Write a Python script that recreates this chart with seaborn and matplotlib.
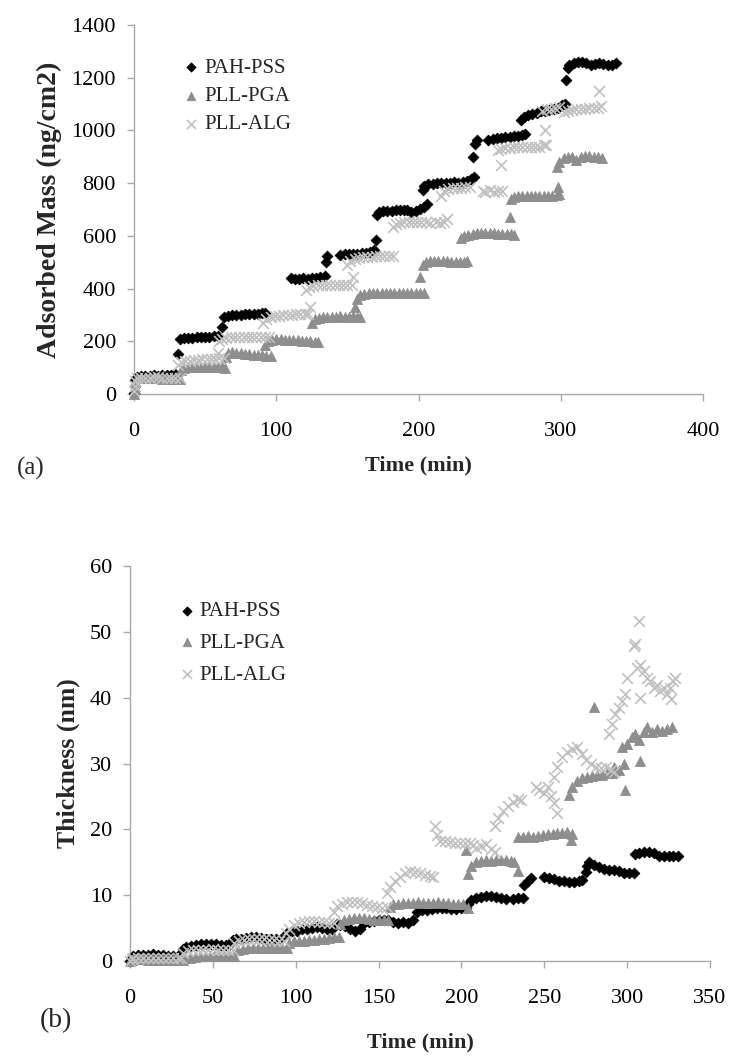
import matplotlib
matplotlib.use("Agg")
import matplotlib.pyplot as plt
import seaborn as sns
import pandas as pd

sns.set_theme(style="white")
plt.rcParams["font.family"] = ["Liberation Serif", "DejaVu Serif"]

SERIES = ["PAH-PSS", "PLL-PGA", "PLL-ALG"]

# ---------------- (a) Adsorbed mass (ng/cm2) vs time (min) ----------------
MASS_T_PAH = [0, 0.5, 1, 2, 5, 8, 11, 14, 17, 20, 23, 26, 29,
              31, 32, 35, 38, 41, 44, 47, 50, 53, 56, 59,
              62, 63, 66, 69, 72, 75, 78, 81, 84, 87, 90, 92,
              110, 113, 116, 119, 122, 125, 128, 131, 134, 135, 136,
              145, 148, 151, 154, 157, 160, 163, 166, 169, 170,
              171, 172, 175, 178, 181, 184, 187, 190, 192, 195, 198, 201, 204, 206,
              203, 204, 207, 210, 213, 216, 219, 222, 225, 228, 231, 234, 237, 239,
              238, 239.5, 241, 249, 252, 255, 258, 261, 264, 267, 270, 273, 275,
              272, 274, 277, 280, 283, 286, 289, 292, 295, 298, 301, 303,
              304, 305, 306, 309, 312, 315, 318, 321, 324, 327, 330, 333, 336, 339]
MASS_PAH = [5, 30, 55, 66, 68, 70, 69, 71, 70, 72, 71, 73, 74,
            150, 208, 212, 213, 214, 215, 216, 217, 218, 219, 221,
            255, 293, 296, 298, 300, 301, 302, 303, 304, 305, 307, 308,
            440, 438, 437, 441, 437, 440, 442, 443, 446, 500, 525,
            528, 530, 532, 533, 531, 534, 536, 538, 545, 584,
            680, 690, 693, 695, 696, 697, 698, 700, 697, 690, 695, 702, 710, 720,
            775, 790, 795, 797, 799, 800, 801, 800, 803, 802, 806, 810, 815, 822,
            900, 950, 965, 962, 968, 970, 972, 974, 976, 978, 980, 982, 985,
            1040, 1050, 1058, 1062, 1068, 1072, 1075, 1078, 1080, 1085, 1095, 1100,
            1190, 1235, 1248, 1255, 1258, 1260, 1255, 1250, 1252, 1255, 1252, 1250, 1248, 1255]

MASS_T_PGA = [0, 0.5, 1, 2, 5, 8, 11, 14, 17, 20, 23, 26, 29, 32,
              33, 35, 38, 41, 44, 47, 50, 53, 56, 59, 62, 64,
              65, 66, 69, 72, 75, 78, 81, 84, 87, 90, 93, 96,
              92, 94, 97, 100, 103, 106, 109, 112, 115, 118, 121, 124, 127, 129,
              125, 127, 130, 133, 136, 139, 142, 145, 148, 151, 154, 157, 159,
              155, 157, 159, 162, 165, 168, 171, 174, 177, 180, 183, 186, 189, 192, 195, 198, 201, 204,
              201, 203, 205, 208, 211, 214, 217, 220, 223, 226, 229, 232, 234,
              230, 232, 235, 238, 241, 244, 247, 250, 253, 256, 259, 262, 265, 267,
              264, 265, 267, 270, 273, 276, 279, 282, 285, 288, 291, 294, 297, 299,
              298, 297, 299, 302, 305, 308, 311, 314, 317, 320, 323, 326, 329]
MASS_PGA = [0, 20, 45, 60, 62, 61, 60, 60, 59, 58, 58, 57, 57, 56,
            90, 98, 101, 103, 104, 104, 103, 103, 102, 102, 101, 100,
            140, 155, 158, 156, 154, 152, 150, 149, 148, 147, 146, 145,
            185, 200, 206, 208, 207, 206, 205, 204, 203, 202, 201, 200, 199, 198,
            270, 285, 290, 292, 293, 294, 294, 295, 294, 294, 295, 293, 292,
            330, 360, 375, 380, 382, 383, 383, 384, 383, 383, 382, 383, 384, 383, 382, 383, 384, 383,
            445, 490, 500, 503, 504, 505, 504, 503, 502, 502, 501, 502, 505,
            590, 600, 605, 608, 610, 611, 610, 610, 609, 608, 608, 607, 607, 605,
            670, 740, 748, 750, 752, 752, 753, 752, 752, 751, 750, 752, 755, 760,
            786, 860, 880, 895, 900, 898, 888, 900, 902, 902, 900, 898, 895]

MASS_T_ALG = [0, 0.5, 1, 2, 5, 8, 11, 14, 17, 20, 23, 26, 29, 32,
              31, 33, 36, 39, 42, 45, 48, 51, 54, 57, 59, 60, 63,
              60, 62, 65, 68, 71, 74, 77, 80, 83, 86, 89, 92, 95,
              91, 93, 96, 99, 102, 105, 108, 111, 114, 117, 120, 122, 124,
              121, 123, 126, 129, 132, 135, 138, 141, 144, 147, 150, 153, 154,
              150, 152, 155, 158, 161, 164, 167, 170, 173, 176, 179, 182,
              182, 184, 187, 190, 193, 196, 199, 202, 205, 208, 212, 215, 218, 220,
              216, 218, 221, 224, 227, 230, 233, 236,
              245, 247, 250, 253, 256, 258, 259,
              256, 258, 261, 264, 267, 270, 273, 276, 279, 282, 285, 288, 289, 289.5,
              287, 290, 293, 296, 299, 302, 305, 308, 311, 314, 317, 320, 323, 326, 327, 328]
MASS_ALG = [10, 30, 50, 60, 61, 62, 62, 63, 63, 62, 62, 61, 60, 60,
            110, 120, 124, 127, 129, 130, 131, 132, 133, 134, 155, 135, 136,
            200, 210, 214, 215, 216, 217, 217, 217, 217, 216, 216, 215, 215,
            270, 285, 292, 295, 297, 299, 300, 301, 302, 302, 302, 303, 330,
            395, 405, 410, 412, 413, 413, 414, 413, 413, 412, 412, 415, 443,
            490, 505, 512, 516, 518, 520, 521, 522, 522, 522, 523, 523,
            635, 645, 650, 652, 653, 654, 653, 652, 652, 650, 652, 650, 652, 665,
            750, 770, 778, 780, 782, 783, 784, 785,
            770, 765, 775, 768, 772, 869, 770,
            925, 930, 933, 935, 936, 937, 937, 938, 938, 938, 937, 945, 1003, 945,
            1075, 1080, 1082, 1085, 1088, 1070, 1075, 1078, 1080, 1082, 1083, 1084, 1085, 1086, 1150, 1093]

# ---------------- (b) Thickness (nm) vs time (min) ----------------
THK_T_PAH = [0, 1, 2, 5, 8, 11, 14, 17, 20, 23, 26, 29,
             32, 34, 37, 40, 43, 46, 49, 52, 55, 58, 60,
             62, 64, 67, 70, 73, 76, 79, 82, 85, 88, 91,
             95, 98, 101, 104, 107, 110, 113, 116, 119, 122,
             125, 127, 130, 133, 136, 139,
             141, 144, 147, 150, 153, 156,
             159, 162, 165, 168, 171,
             173, 176, 179, 182, 185, 188, 191, 194, 197, 200, 203,
             204, 206, 209, 212, 215, 218, 221, 224, 227,
             231, 234, 237, 238, 240, 242,
             250, 253, 256, 259, 262, 265, 268, 271, 273,
             275, 276, 277,
             280, 283, 286, 289, 292, 295, 298, 301, 304,
             305, 307, 310, 313, 316, 319, 322, 325, 328, 331]
THK_PAH = [0.0, 0.5, 0.8, 0.9, 0.9, 0.9, 1.0, 0.9, 0.9, 0.8, 0.8, 0.8,
           1.8, 2.1, 2.3, 2.5, 2.6, 2.6, 2.6, 2.6, 2.5, 2.5, 2.5,
           3.2, 3.3, 3.4, 3.5, 3.6, 3.6, 3.5, 3.4, 3.4, 3.4, 3.3,
           4.3, 4.5, 4.6, 4.8, 4.9, 5.0, 5.1, 5.0, 4.9, 4.8,
           5.6, 5.5, 5.3, 4.9, 4.6, 4.8,
           5.8, 6.0, 6.1, 6.2, 6.2, 6.2,
           6.0, 5.8, 5.9, 5.8, 6.2,
           7.5, 7.7, 7.8, 7.9, 8.0, 8.0, 8.0, 7.9, 7.9, 8.0, 8.0,
           8.6, 9.2, 9.5, 9.7, 9.8, 9.8, 9.7, 9.5, 9.4,
           9.4, 9.6, 9.5, 11.5, 12.2, 12.6,
           12.8, 12.6, 12.4, 12.2, 12.1, 12.0, 12.0, 12.1, 12.3,
           13.5, 14.5, 15.0,
           14.6, 14.3, 14.0, 13.8, 13.9, 13.6, 13.3, 13.3, 13.4,
           16.2, 16.4, 16.5, 16.6, 16.4, 16.0, 15.9, 15.9, 16.0, 15.9]

THK_T_PGA = [0, 1, 2, 5, 8, 11, 14, 17, 20, 23, 26, 29, 32,
             33, 36, 39, 42, 45, 48, 51, 54, 57, 60, 63,
             65, 68, 71, 74, 77, 80, 83, 86, 89, 92, 95,
             96, 99, 102, 105, 108, 111, 114, 117, 120, 123, 126,
             127, 129, 132, 135, 138, 141, 144, 147, 150, 153, 156,
             157, 159, 162, 165, 168, 171, 174, 177, 180, 183, 186, 189, 192, 195, 198, 201, 204,
             203, 204, 206, 209, 212, 215, 218, 221, 224, 227, 230, 232, 234,
             234, 237, 240, 243, 246, 249, 252, 255, 258, 261, 264, 266, 267,
             265, 267, 270, 273, 276, 279, 280, 282, 285, 288, 291,
             292, 295, 298, 299,
             297, 300, 303, 305, 307, 308,
             310, 312, 315, 318, 321, 324, 327]
THK_PGA = [0.0, 0.2, 0.3, 0.3, 0.3, 0.2, 0.2, 0.2, 0.2, 0.2, 0.2, 0.2, 0.2,
           0.4, 0.5, 0.6, 0.7, 0.7, 0.8, 0.8, 0.8, 0.8, 0.8, 0.8,
           1.6, 1.8, 1.9, 2.0, 2.0, 2.0, 2.0, 1.9, 1.9, 1.9, 1.9,
           2.8, 3.0, 3.1, 3.1, 3.2, 3.2, 3.3, 3.4, 3.5, 3.6, 3.7,
           5.6, 6.2, 6.4, 6.5, 6.5, 6.5, 6.4, 6.3, 6.3, 6.2, 6.2,
           8.2, 8.6, 8.7, 8.8, 8.8, 8.8, 8.9, 8.8, 8.8, 8.8, 8.9, 8.8, 8.8, 8.7, 8.7, 8.6, 8.0,
           16.8, 13.2, 14.5, 15.0, 15.2, 15.3, 15.2, 15.3, 15.4, 15.4, 15.2, 15.0, 13.7,
           18.8, 18.9, 19.0, 18.9, 19.0, 19.2, 19.3, 19.3, 19.4, 19.5, 19.6, 18.4, 19.3,
           25.2, 26.5, 27.3, 27.8, 28.0, 28.1, 38.6, 28.3, 28.3, 28.5, 28.6,
           29.5, 29.0, 30.0, 26.0,
           32.5, 33.0, 34.0, 34.5, 33.5, 30.4,
           34.8, 35.5, 34.8, 35.2, 35.0, 35.3, 35.5]

THK_T_ALG = [0, 1, 2, 5, 8, 11, 14, 17, 20, 23, 26, 29, 31,
             32, 35, 38, 41, 44, 47, 50, 53, 56, 59, 62,
             63, 66, 69, 72, 75, 78, 81, 84, 87, 90, 93,
             94, 96, 99, 102, 105, 108, 111, 114, 117, 120, 123,
             123, 125, 128, 131, 134, 137, 140, 143, 146, 149, 152, 155,
             155, 157, 160, 163, 166, 169, 172, 175, 178, 181, 183,
             184, 185, 187, 190, 193, 196, 199, 202, 205, 207, 209,
             212, 215, 218, 220,
             220, 222, 225, 228, 231, 234, 236,
             245, 247, 250, 252, 254, 256, 258,
             256, 258, 261, 264, 267, 270, 273,
             275, 278, 281, 284, 287, 290, 292,
             289, 291, 293, 295, 297, 299, 300,
             304, 305, 307, 307.5,
             306, 308, 310, 312, 314, 316, 318, 320, 322, 324, 326, 326.5, 328, 329]
THK_ALG = [0.0, 0.3, 0.4, 0.4, 0.4, 0.4, 0.4, 0.4, 0.4, 0.4, 0.4, 0.4, 0.4,
           1.2, 1.5, 1.6, 1.7, 1.7, 1.7, 1.8, 1.7, 1.7, 1.7, 1.7,
           2.8, 3.1, 3.2, 3.3, 3.4, 3.3, 3.3, 3.2, 3.2, 3.1, 3.1,
           4.3, 4.9, 5.4, 5.8, 6.0, 6.1, 6.1, 6.0, 6.0, 5.8, 5.8,
           7.5, 8.3, 8.7, 8.9, 9.0, 9.0, 8.8, 8.5, 8.3, 8.2, 8.1, 8.2,
           10.3, 11.2, 12.2, 12.8, 13.3, 13.6, 13.5, 13.3, 13.0, 12.9, 12.8,
           20.5, 19.2, 18.3, 18.2, 18.1, 18.0, 18.0, 17.9, 18.0, 17.6, 17.2,
           17.4, 17.8, 17.0, 16.6,
           20.5, 21.8, 22.8, 23.6, 24.2, 24.6, 24.4,
           26.5, 26.0, 25.5, 26.4, 25.0, 24.0, 22.5,
           28.0, 29.5, 31.0, 31.8, 32.2, 32.5, 31.5,
           30.5, 30.0, 29.5, 29.3, 29.5, 29.0, 28.7,
           34.5, 36.0, 37.5, 38.5, 39.5, 40.5, 43.0,
           47.8, 48.2, 51.7, 40.0,
           44.5, 45.0, 44.0, 43.0, 42.5, 41.5, 42.0, 41.0, 41.5, 40.5, 41.5, 39.8, 42.5, 43.0]

MASS_TICKS = [0, 200, 400, 600, 800, 1000, 1200, 1400]
MASS_XTICKS = [0, 100, 200, 300, 400]
THK_TICKS = [0, 10, 20, 30, 40, 50, 60]
THK_XTICKS = [0, 50, 100, 150, 200, 250, 300, 350]

COLORS = {"PAH-PSS": "#000000", "PLL-PGA": "#8e8e8e", "PLL-ALG": "#c0c0c0"}
MARKERS = {"PAH-PSS": "D", "PLL-PGA": "^", "PLL-ALG": "x"}
SIZES = {"PAH-PSS": 30, "PLL-PGA": 52, "PLL-ALG": 60}
SPINE = "#a8a8a8"


def frame(t, v):
    return pd.DataFrame({"t": t, "v": v})


def draw(ax, datasets):
    for i, name in enumerate(SERIES):
        df = datasets[name]
        kw = dict(edgecolor=COLORS[name], linewidth=0.6)
        if MARKERS[name] == "x":
            kw = dict(linewidth=1.2)
        sns.scatterplot(data=df, x="t", y="v", ax=ax, marker=MARKERS[name],
                        s=SIZES[name], color=COLORS[name], label=name,
                        clip_on=False, zorder=3 + i, **kw)


def style(ax, xticks, yticks, xlabel, ylabel, xlab_y, ylab_x, ysize):
    ax.set_xlim(xticks[0], xticks[-1])
    ax.set_ylim(yticks[0], yticks[-1])
    ax.set_xticks(xticks)
    ax.set_yticks(yticks)
    for s in ("top", "right"):
        ax.spines[s].set_visible(False)
    for s in ("left", "bottom"):
        ax.spines[s].set_color(SPINE)
        ax.spines[s].set_linewidth(1.0)
    ax.tick_params(axis="both", direction="out", length=5, width=1.0,
                   color=SPINE, labelcolor="black", labelsize=16)
    ax.tick_params(axis="x", pad=15, bottom=True)
    ax.tick_params(axis="y", pad=8, left=True)
    ax.set_xlabel(xlabel, fontsize=16, fontweight="bold")
    ax.set_ylabel(ylabel, fontsize=ysize, fontweight="bold")
    ax.xaxis.label.set_va("center")
    ax.yaxis.label.set_va("center")
    ax.xaxis.set_label_coords(0.5, xlab_y)
    ax.yaxis.set_label_coords(ylab_x, 0.5)
    ax.grid(False)


fig = plt.figure(figsize=(7.5, 10.64), dpi=100)
ax1 = fig.add_axes([0.1787, 0.6297, 0.7587, 0.3468])
ax2 = fig.add_axes([0.1733, 0.0968, 0.7733, 0.3712])

mass = {"PAH-PSS": frame(MASS_T_PAH, MASS_PAH),
        "PLL-PGA": frame(MASS_T_PGA, MASS_PGA),
        "PLL-ALG": frame(MASS_T_ALG, MASS_ALG)}
thick = {"PAH-PSS": frame(THK_T_PAH, THK_PAH),
         "PLL-PGA": frame(THK_T_PGA, THK_PGA),
         "PLL-ALG": frame(THK_T_ALG, THK_ALG)}

draw(ax1, mass)
draw(ax2, thick)

style(ax1, MASS_XTICKS, MASS_TICKS, "Time (min)", "Adsorbed Mass (ng/cm2)",
      -0.195, -0.148, 20)
style(ax2, THK_XTICKS, THK_TICKS, "Time (min)", "Thickness (nm)",
      -0.207, -0.107, 18.5)

ax1.legend(loc="upper left", bbox_to_anchor=(0.09, 0.91), frameon=False,
           fontsize=15, handlelength=0.6, handletextpad=0.3, labelspacing=0.42,
           borderpad=0, borderaxespad=0, markerscale=0.85)
ax2.legend(loc="upper left", bbox_to_anchor=(0.087, 0.91), frameon=False,
           fontsize=15, handlelength=0.6, handletextpad=0.3, labelspacing=0.58,
           borderpad=0, borderaxespad=0, markerscale=0.85)

fig.text(0.023, 0.560, "(a)", fontsize=18, va="center", ha="left")
fig.text(0.053, 0.041, "(b)", fontsize=20, va="center", ha="left")

fig.savefig("out.png", dpi=100)
